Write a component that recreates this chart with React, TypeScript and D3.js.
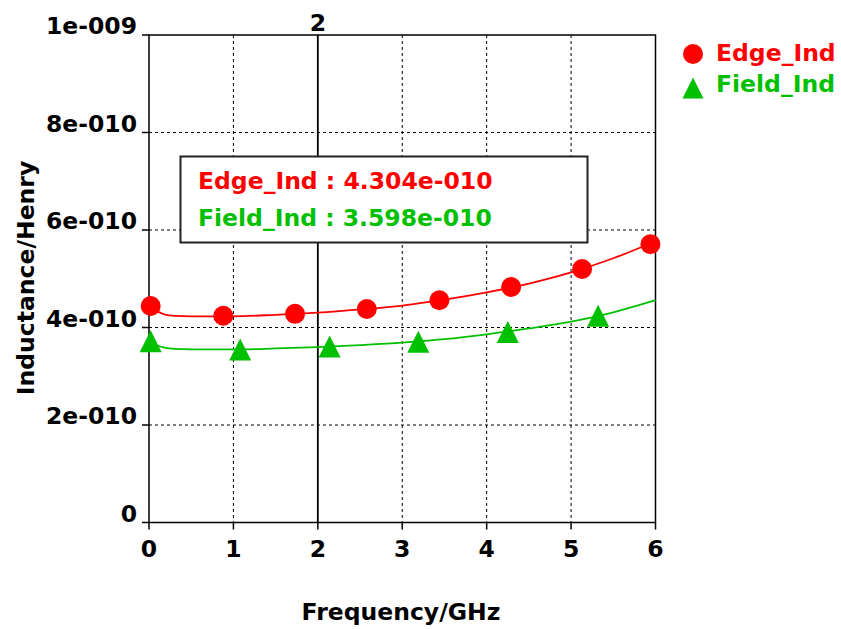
import React from 'react';
import * as d3 from 'd3';

// curve samples (GHz, Henry)
const freqs = [0, 0.1, 0.2, 0.3, 0.5, 1.0, 1.5, 2.0, 2.5, 3.0, 3.5, 4.0, 4.5, 5.0, 5.5, 6.0];
const edgeInd = [4.45e-10, 4.33e-10, 4.26e-10, 4.24e-10, 4.23e-10, 4.23e-10, 4.26e-10, 4.304e-10, 4.37e-10, 4.45e-10, 4.57e-10, 4.72e-10, 4.9e-10, 5.13e-10, 5.42e-10, 5.77e-10];
const fieldInd = [3.74e-10, 3.63e-10, 3.58e-10, 3.56e-10, 3.55e-10, 3.55e-10, 3.57e-10, 3.598e-10, 3.64e-10, 3.69e-10, 3.76e-10, 3.86e-10, 3.98e-10, 4.12e-10, 4.31e-10, 4.56e-10];

// symbol positions along each trace
const edgeMarkFreq = [0.02, 0.88, 1.73, 2.58, 3.44, 4.29, 5.13, 5.94];
const edgeMarkVal = [4.44e-10, 4.24e-10, 4.28e-10, 4.38e-10, 4.56e-10, 4.83e-10, 5.2e-10, 5.71e-10];
const fieldMarkFreq = [0.02, 1.08, 2.14, 3.19, 4.25, 5.32];
const fieldMarkVal = [3.72e-10, 3.55e-10, 3.61e-10, 3.71e-10, 3.91e-10, 4.24e-10];

const xTicks = [0, 1, 2, 3, 4, 5, 6];
const yTicks = [0, 2e-10, 4e-10, 6e-10, 8e-10, 1e-9];
const yTickLabels = ['0', '2e-010', '4e-010', '6e-010', '8e-010', '1e-009'];

const markerFreq = 2;
const markerLines = ['Edge_Ind : 4.304e-010', 'Field_Ind : 3.598e-010'];
const seriesNames = ['Edge_Ind', 'Field_Ind'];

const RED = '#ff0000';
const GREEN = '#00c000';
const FONT = '"DejaVu Sans", Verdana, sans-serif';

const W = 841;
const H = 629;
const left = 149, right = 655.5, top = 35, bottom = 522.5;

const tri = (cx: number, cy: number, s: number) =>
    `M${cx},${cy - s}L${cx + s},${cy + s}L${cx - s},${cy + s}Z`;

export default function App() {
    const x = d3.scaleLinear().domain([0, 6]).range([left, right]);
    const y = d3.scaleLinear().domain([0, 1e-9]).range([bottom, top]);

    const line = d3.line<number>()
        .x((_, i) => x(freqs[i]))
        .y(d => y(d))
        .curve(d3.curveMonotoneX);

    const txt = { fontFamily: FONT, fontWeight: 'bold' as const, fontSize: 23.5 };

    return (
        <div style={{ position: 'fixed', left: 0, top: 0 }}>
            <svg width={W} height={H} style={{ display: 'block', background: '#fff' }}>
                {/* grid */}
                {yTicks.slice(1, -1).map(t => (
                    <line key={'gy' + t} x1={left} x2={right} y1={y(t)} y2={y(t)}
                        stroke="#000" strokeWidth={1} strokeDasharray="3,3" />
                ))}
                {xTicks.filter(t => t !== 0 && t !== 6 && t !== markerFreq).map(t => (
                    <line key={'gx' + t} x1={x(t)} x2={x(t)} y1={top} y2={bottom}
                        stroke="#000" strokeWidth={1} strokeDasharray="3,3" />
                ))}

                {/* frame + ticks */}
                <rect x={left} y={top} width={right - left} height={bottom - top}
                    fill="none" stroke="#000" strokeWidth={1.5} />
                {yTicks.map(t => (
                    <line key={'ty' + t} x1={left - 7} x2={left} y1={y(t)} y2={y(t)} stroke="#000" strokeWidth={1.5} />
                ))}
                {xTicks.map(t => (
                    <line key={'tx' + t} x1={x(t)} x2={x(t)} y1={bottom} y2={bottom + 7} stroke="#000" strokeWidth={1.5} />
                ))}

                {/* tick labels */}
                {yTicks.map((t, i) => (
                    <text key={'ly' + t} x={137} y={y(t) - 1} textAnchor="end" {...txt}>{yTickLabels[i]}</text>
                ))}
                {xTicks.map(t => (
                    <text key={'lx' + t} x={x(t)} y={557} textAnchor="middle" {...txt}>{t}</text>
                ))}

                {/* axis titles */}
                <text x={401} y={620} textAnchor="middle" {...txt}>Frequency/GHz</text>
                <text transform={`translate(34,278) rotate(-90)`} textAnchor="middle" {...txt}>Inductance/Henry</text>

                {/* marker line */}
                <line x1={x(markerFreq)} x2={x(markerFreq)} y1={top} y2={bottom} stroke="#000" strokeWidth={1.8} />
                <text x={x(markerFreq)} y={31} textAnchor="middle" {...txt}>{markerFreq}</text>

                {/* traces */}
                <path d={line(edgeInd) || ''} fill="none" stroke={RED} strokeWidth={1.8} />
                <path d={line(fieldInd) || ''} fill="none" stroke={GREEN} strokeWidth={1.8} />
                {edgeMarkFreq.map((f, i) => (
                    <circle key={'ec' + i} cx={x(f)} cy={y(edgeMarkVal[i])} r={10} fill={RED} />
                ))}
                {fieldMarkFreq.map((f, i) => (
                    <path key={'ft' + i} d={tri(x(f), y(fieldMarkVal[i]), 11)} fill={GREEN} />
                ))}

                {/* marker readout */}
                <rect x={180.5} y={156.5} width={407} height={86} fill="#fff" stroke="#222" strokeWidth={2} />
                <text x={198} y={189} fill={RED} {...txt}>{markerLines[0]}</text>
                <text x={198} y={226} fill={GREEN} {...txt}>{markerLines[1]}</text>

                {/* legend */}
                <circle cx={693} cy={54} r={10} fill={RED} />
                <text x={716} y={61} fill={RED} {...txt}>{seriesNames[0]}</text>
                <path d={tri(693, 88, 10.5)} fill={GREEN} />
                <text x={716} y={92} fill={GREEN} {...txt}>{seriesNames[1]}</text>
            </svg>
        </div>
    );
}
